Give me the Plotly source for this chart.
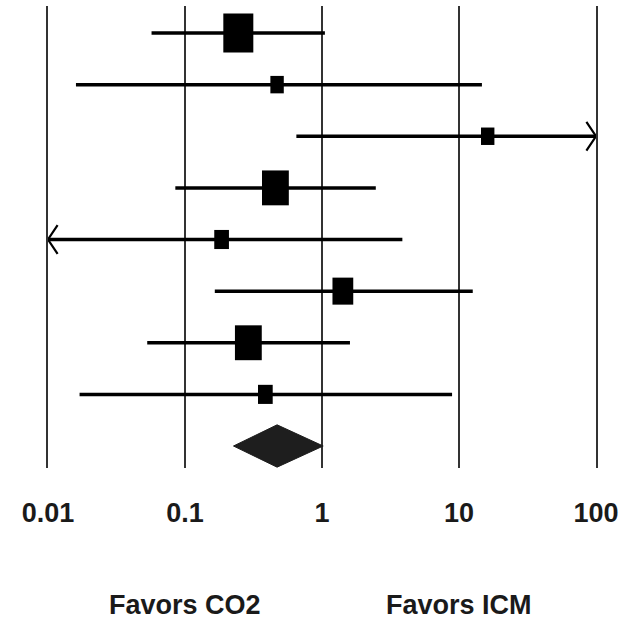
import numpy as np
import plotly.graph_objects as go

# ---------------- data ----------------
studies = ["Study 1", "Study 2", "Study 3", "Study 4", "Study 5", "Study 6", "Study 7", "Study 8"]
odds_ratio = [0.245, 0.47, 16.2, 0.457, 0.185, 1.42, 0.29, 0.386]
ci_low = [0.057, 0.016, 0.65, 0.085, 0.005, 0.165, 0.053, 0.017]
ci_high = [1.05, 14.7, 150.0, 2.47, 3.86, 12.6, 1.6, 8.9]
weights = [25, 5, 5, 20, 6, 12, 20, 6]
pooled_label = "Overall"
pooled_or = 0.47
pooled_low = 0.226
pooled_high = 1.02
tick_vals = [0.01, 0.1, 1, 10, 100]
tick_text = ["0.01", "0.1", "1", "10", "100"]
side_labels = ["Favors CO2", "Favors ICM"]
side_label_x = [0.1, 10]

# ---------------- style ----------------
FONT = "Liberation Sans, Arial, sans-serif"
INK = "#000000"
GRID = "#333333"
TXT = "#1a1a1a"
LINE_SYMBOL_SCALE = 1.4   # plotly draws line-ns markers 1.4x their size
x_min, x_max = tick_vals[0], tick_vals[-1]

rows = list(range(1, len(studies) + 1))
pooled_row = len(studies) + 1

fig = go.Figure()

# whiskers (confidence intervals)
wx, wy = [], []
for r, lo, hi in zip(rows, ci_low, ci_high):
    wx += [lo, hi, None]
    wy += [r, r, None]
fig.add_trace(go.Scatter(x=wx, y=wy, mode="lines",
                         line=dict(color=INK, width=3.5), hoverinfo="skip"))

# arrows for intervals running past the axis
ax_x, ax_y, ax_sym = [], [], []
for r, lo, hi in zip(rows, ci_low, ci_high):
    if hi > x_max:
        ax_x.append(x_max); ax_y.append(r); ax_sym.append("y-right")
    if lo < x_min:
        ax_x.append(x_min); ax_y.append(r); ax_sym.append("y-left")
fig.add_trace(go.Scatter(x=ax_x, y=ax_y, mode="markers", cliponaxis=True,
                         marker=dict(symbol=ax_sym, size=24, color=INK, opacity=1,
                                     line=dict(color=INK, width=2.2)),
                         hoverinfo="skip"))

# study point estimates: boxes sized by weight
box_w = [6.0 * np.sqrt(w) for w in weights]
box_h = [1.3 * bw / LINE_SYMBOL_SCALE for bw in box_w]
fig.add_trace(go.Scatter(x=odds_ratio, y=rows, mode="markers", text=studies,
                         marker=dict(symbol="line-ns", size=box_h, color=INK, opacity=1,
                                     line=dict(color=INK, width=box_w)),
                         hovertemplate="%{text}: %{x}<extra></extra>"))

# pooled diamond
half_h = 0.41
fig.add_trace(go.Scatter(
    x=[pooled_low, pooled_or, pooled_high, pooled_or, pooled_low],
    y=[pooled_row, pooled_row - half_h, pooled_row, pooled_row + half_h, pooled_row],
    mode="lines", fill="toself", fillcolor="#1e1e1e",
    line=dict(color="#1e1e1e", width=1), name=pooled_label, hoverinfo="skip"))

# side labels
for lab, xv in zip(side_labels, side_label_x):
    fig.add_annotation(x=np.log10(xv), xref="x", y=-0.2965, yref="paper",
                       text=lab, showarrow=False, yanchor="middle",
                       font=dict(family=FONT, size=27, color=TXT, weight="bold"))

fig.update_layout(
    width=625, height=620,
    margin=dict(l=48, r=25, t=6, b=152),
    paper_bgcolor="white", plot_bgcolor="white",
    showlegend=False,
    xaxis=dict(type="log", range=[np.log10(x_min), np.log10(x_max)],
               tickvals=tick_vals, ticktext=tick_text,
               showgrid=True, gridcolor=GRID, gridwidth=1.8,
               zeroline=False, showline=False, ticks="",
               ticklabelstandoff=26, ticklabeloverflow="allow",
               tickfont=dict(family=FONT, size=27, color=TXT, weight="bold")),
    yaxis=dict(range=[pooled_row + 0.426, 1 - 0.523], showticklabels=False,
               showgrid=False, zeroline=False, ticks="",
               showline=True, mirror=True, linecolor=GRID, linewidth=1.8),
)

# remove the browser's default body margin so the 625x620 figure fills the window
fig.write_html("out.html", config={"displayModeBar": False},
               post_script="document.body.style.margin='0';")
